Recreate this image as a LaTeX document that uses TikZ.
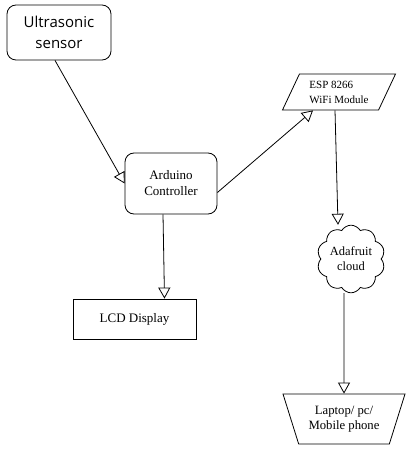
\documentclass[tikz,border=0pt]{standalone}
\usepackage{fontspec}
\setmainfont{Liberation Serif}
\newfontfamily\sensorfont{Open Sans}
\usepackage{tikz}
\usetikzlibrary{shapes.geometric, shapes.symbols, arrows.meta, calc, positioning}
\tikzstyle{block} = [rectangle, draw=black, line width=0.8pt, text centered, align=center, font=\fontsize{13}{16}\selectfont]
\tikzstyle{roundblock} = [block, rounded corners=9pt]
\tikzstyle{io} = [trapezium, draw=black, line width=0.8pt, trapezium stretches body, inner sep=0pt, align=center]
\tikzstyle{arrow} = [line width=0.8pt, -{Triangle[open, length=11pt, width=12pt]}]

\begin{document}
\begin{tikzpicture}[x=1pt, y=-1pt]
		\useasboundingbox (0,0) rectangle (410,457);
		\node (Sensor) [roundblock, minimum width=104pt, minimum height=55pt, font=\sensorfont\fontsize{15}{21}\selectfont] at (59,32.5) {Ultrasonic\\sensor};
		\node (Arduino) [roundblock, minimum width=92pt, minimum height=61pt] at (171,183.5) {Arduino\\Controller};
		\node (LCD) [block, minimum width=123pt, minimum height=40pt] at (134.5,319) {LCD Display};
		\node (ESP) [io, trapezium left angle=53, trapezium right angle=127, minimum width=106pt, minimum height=36pt, inner xsep=10pt, align=left, font=\fontsize{11}{15}\selectfont] at (339,92) {ESP 8266\\WiFi Module};
		\node (Cloud) [cloud, draw=black, line width=0.8pt, cloud puffs=10, cloud puff arc=120, minimum width=68pt, minimum height=55pt, inner sep=0pt, align=center, font=\fontsize{12.5}{15}\selectfont] at (351,259) {Adafruit\\cloud};
		\node (Laptop) [io, shape border rotate=180, trapezium left angle=59, trapezium right angle=59, minimum width=122pt, minimum height=50pt, font=\fontsize{12.7}{15}\selectfont] at (344,419) {Laptop/ pc/\\Mobile phone};
		\draw [arrow] ($(Sensor.south)+(-4,0)$) -- (Arduino.west);
		\draw [arrow] ($(Arduino.east)+(0,9)$) -- ($(ESP.south)+(-26,0)$);
		\draw [arrow] ($(Arduino.south)+(-8,0)$) -- ($(LCD.north)+(30,0)$);
		\draw [arrow] ($(ESP.south)+(-4,0)$) -- ($(Cloud.north)+(-13,0)$);
		\draw [arrow] ($(Cloud.south)+(-7,0)$) -- (Laptop.north);
\end{tikzpicture}
\end{document}
